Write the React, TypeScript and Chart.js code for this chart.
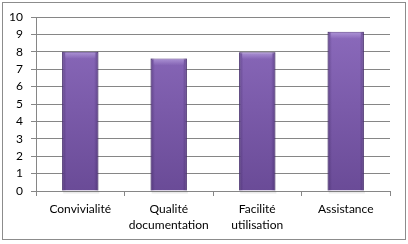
import React, { useEffect, useRef } from "react";
import { Chart, registerables } from "chart.js";

Chart.register(...registerables);

const categories: (string | string[])[] = [
  "Convivialité",
  ["Qualité", "documentation"],
  ["Facilité", "utilisation"],
  "Assistance",
];
const values: number[] = [8, 7.62, 7.98, 9.15];
const yTicks: number[] = [0, 1, 2, 3, 4, 5, 6, 7, 8, 9, 10];

const FONT = "Lato, 'Open Sans', sans-serif";

const framePlugin = {
  id: "frame",
  beforeDraw(chart: any) {
    const ctx = chart.ctx;
    ctx.save();
    ctx.fillStyle = "#ffffff";
    ctx.fillRect(0, 0, chart.width, chart.height);
    ctx.strokeStyle = "#8c8c8c";
    ctx.lineWidth = 1;
    ctx.strokeRect(2.5, 2.5, chart.width - 5, chart.height - 7);
    ctx.restore();
  },
  afterDatasetsDraw(chart: any) {
    const ctx = chart.ctx;
    const meta = chart.getDatasetMeta(0);
    ctx.save();
    meta.data.forEach((bar: any) => {
      const w = bar.width;
      const left = bar.x - w / 2;
      const top = bar.y;
      const bottom = bar.base;
      const g = ctx.createLinearGradient(left, 0, left + w, 0);
      g.addColorStop(0, "rgba(40,20,70,0.35)");
      g.addColorStop(0.12, "rgba(40,20,70,0.0)");
      g.addColorStop(0.88, "rgba(40,20,70,0.0)");
      g.addColorStop(1, "rgba(40,20,70,0.35)");
      ctx.fillStyle = g;
      ctx.fillRect(left, top, w, bottom - top);
      const hg = ctx.createLinearGradient(0, top, 0, top + 7);
      hg.addColorStop(0, "rgba(200,180,235,0.6)");
      hg.addColorStop(1, "rgba(200,180,235,0)");
      ctx.fillStyle = hg;
      ctx.fillRect(left + 3, top + 1, w - 6, 6);
      ctx.fillStyle = "rgba(0,0,0,0.08)";
      ctx.fillRect(left + 1, bottom + 1, w, 2);
    });
    ctx.restore();
  },
};

export default function App() {
  const ref = useRef<HTMLCanvasElement | null>(null);
  useEffect(() => {
    if (!ref.current) return;
    const chart = new Chart(ref.current, {
      type: "bar",
      data: {
        labels: categories,
        datasets: [
          {
            data: values,
            backgroundColor: (c: any) => {
              const area = c.chart.chartArea;
              if (!area) return "#7b5aab";
              const g = c.chart.ctx.createLinearGradient(0, area.top, 0, area.bottom);
              g.addColorStop(0, "#8d6cbe");
              g.addColorStop(1, "#6a4b97");
              return g;
            },
            borderColor: "#5b4085",
            borderWidth: 1,
            categoryPercentage: 1,
            barPercentage: 0.41,
          },
        ],
      },
      options: {
        animation: false,
        responsive: false,
        devicePixelRatio: 1,
        layout: { padding: { left: 0, right: 18, top: 17, bottom: 0 } },
        plugins: { legend: { display: false }, tooltip: { enabled: false } },
        scales: {
          x: {
            grid: {
              offset: true,
              drawOnChartArea: false,
              drawTicks: true,
              tickLength: 5,
              color: "#868686",
            },
            border: { display: true, color: "#868686" },
            ticks: {
              color: "#000",
              font: { family: FONT, size: 12, lineHeight: 1.35 },
              padding: 5,
              maxRotation: 0,
              autoSkip: false,
            },
            afterFit: (s: any) => {
              s.height = 53;
            },
          },
          y: {
            min: 0,
            max: 10,
            afterBuildTicks: (s: any) => {
              s.ticks = yTicks.map((v) => ({ value: v }));
            },
            grid: {
              color: "#868686",
              drawTicks: true,
              tickLength: 5,
            },
            border: { display: true, color: "#868686" },
            ticks: {
              color: "#000",
              font: { family: FONT, size: 12 },
              padding: 8,
            },
            afterFit: (s: any) => {
              s.width = 36;
            },
          },
        },
      },
      plugins: [framePlugin],
    });
    return () => chart.destroy();
  }, []);
  return (
    <div style={{ position: "fixed", left: 0, top: 0, width: 408, height: 244 }}>
      <canvas ref={ref} width={408} height={244} style={{ display: "block" }} />
    </div>
  );
}
